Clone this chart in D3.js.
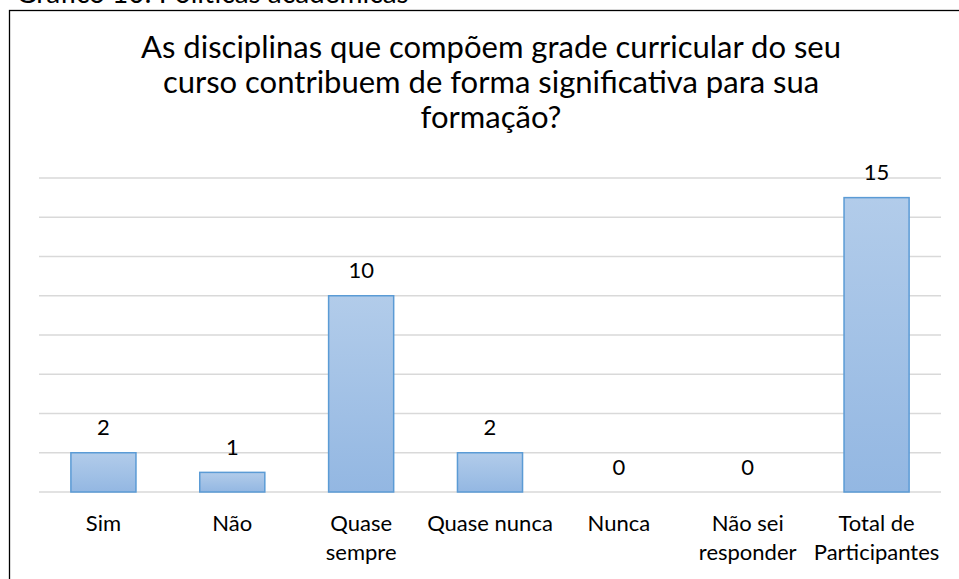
<!DOCTYPE html>
<html><head><meta charset="utf-8">
<script src="https://cdn.jsdelivr.net/npm/d3@7/dist/d3.min.js"></script>
<style>
html,body{margin:0;padding:0;background:#fff;}
svg{display:block;font-family:Lato, "Open Sans", sans-serif;}
</style></head>
<body>
<svg id="c" width="959" height="579"></svg>
<script>
const categories = [["Sim"],["Não"],["Quase","sempre"],["Quase nunca"],["Nunca"],["Não sei","responder"],["Total de","Participantes"]];
const values = [2,1,10,2,0,0,15];
const yTicks = [0,2,4,6,8,10,12,14,16];
const titleLines = ["As disciplinas que compõem grade curricular do seu","curso contribuem de forma significativa para sua","formação?"];
const caption = "Gráfico 10: Políticas acadêmicas";

const svg = d3.select("#c");
const defs = svg.append("defs");
const grad = defs.append("linearGradient").attr("id","bg").attr("x1",0).attr("y1",0).attr("x2",0).attr("y2",1);
grad.append("stop").attr("offset","0%").attr("stop-color","#B2CCEA");
grad.append("stop").attr("offset","100%").attr("stop-color","#93B7E2");

// caption (cut off at top, as in the reference)
svg.append("text").attr("x",16).attr("y",3).attr("font-size",28).attr("fill","#000").text(caption);

// chart border
svg.append("rect").attr("x",9.5).attr("y",10.5).attr("width",1000).attr("height",700)
  .attr("fill","#fff").attr("stroke","#000").attr("stroke-width",1.3);

const x = d3.scaleBand().domain(d3.range(categories.length)).range([39,941]).paddingInner(0.495).paddingOuter(0.2475);
const y = d3.scaleLinear().domain([0,16]).range([492,178]);

// gridlines
svg.append("g").selectAll("line").data(yTicks).join("line")
  .attr("x1",39).attr("x2",941).attr("y1",d=>y(d)).attr("y2",d=>y(d))
  .attr("stroke","#D9D9D9").attr("stroke-width",1.5);

// bars
svg.append("g").selectAll("rect").data(values).join("rect")
  .attr("x",(d,i)=>x(i)).attr("width",x.bandwidth())
  .attr("y",d=>y(d)).attr("height",d=>y(0)-y(d))
  .attr("fill","url(#bg)").attr("stroke","#5B9BD5").attr("stroke-width",1.5)
  .attr("display",d=>d>0?null:"none");

// data labels
svg.append("g").selectAll("text").data(values).join("text")
  .attr("x",(d,i)=>x(i)+x.bandwidth()/2).attr("y",d=>y(d)-17.5)
  .attr("text-anchor","middle").attr("font-size",22).attr("fill","#000").text(d=>d);

// category labels
const cl = svg.append("g").selectAll("text").data(categories).join("text")
  .attr("x",(d,i)=>x(i)+x.bandwidth()/2).attr("y",531)
  .attr("text-anchor","middle").attr("font-size",22).attr("fill","#000");
cl.selectAll("tspan").data(d=>d).join("tspan")
  .attr("x",function(){return d3.select(this.parentNode).attr("x");})
  .attr("dy",(d,i)=>i===0?0:28.5).text(d=>d);

// title
const t = svg.append("text").attr("text-anchor","middle").attr("font-size",31).attr("fill","#000");
t.selectAll("tspan").data(titleLines).join("tspan")
  .attr("x",491).attr("y",(d,i)=>58+i*35).text(d=>d);
</script>
</body></html>
